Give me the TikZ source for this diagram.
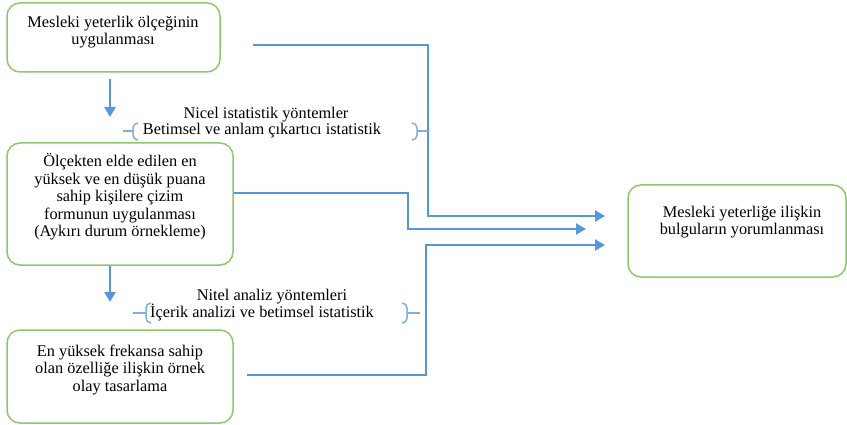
\documentclass[tikz,border=0pt]{standalone}
\usepackage{fontspec}
\setmainfont{Liberation Serif}
\usetikzlibrary{arrows.meta}

\definecolor{flowblue}{RGB}{85,152,213}
\definecolor{bracketblue}{RGB}{125,176,224}
\definecolor{boxgreen}{RGB}{140,200,108}

\tikzset{
  stepbox/.style={draw=boxgreen,line width=1.5pt,rounded corners=13pt},
  boxtext/.style={align=center,inner sep=0,font=\fontsize{16.3}{17.5}\selectfont},
  methodtext/.style={inner sep=0,font=\fontsize{16.3}{17.5}\selectfont},
  flow/.style={draw=flowblue,line width=2.8pt,-{Triangle[length=10pt,width=11pt]}},
  bracket/.style={draw=bracketblue,line width=1.5pt}
}

\begin{document}
\begin{tikzpicture}[x=1pt,y=-1pt]
    \useasboundingbox (0,0) rectangle (847,425);
    % boxes
    \node[stepbox,minimum width=213pt,minimum height=69pt] (uygulama) at (113.5,37.5) {};
    \node[boxtext] (uygulamatext) at (113,32) {Mesleki yeterlik ölçeğinin\\uygulanması};
    \node[stepbox,minimum width=226pt,minimum height=122pt] (cizim) at (120,204) {};
    \node[boxtext] (cizimtext) at (120,197) {Ölçekten elde edilen en\\yüksek ve en düşük puana\\sahip kişilere çizim\\formunun uygulanması\\(Aykırı durum örnekleme)};
    \node[stepbox,minimum width=226pt,minimum height=93pt] (olay) at (120,376.5) {};
    \node[boxtext] (olaytext) at (120,370) {En yüksek frekansa sahip\\olan özelliğe ilişkin örnek\\olay tasarlama};
    \node[stepbox,minimum width=218pt,minimum height=92pt] (yorum) at (737,231) {};
    \node[boxtext] (yorumtext) at (742,222) {Mesleki yeterliğe ilişkin\\bulguların yorumlanması};
    % methods
    \node[methodtext] (nicel) at (266,115) {Nicel istatistik yöntemler};
    \node[methodtext] (betimsel) at (262,131) {Betimsel ve anlam çıkartıcı istatistik};
    \node[methodtext] (nitel) at (272,297) {Nitel analiz yöntemleri};
    \node[methodtext] (icerik) at (262,313) {İçerik analizi ve betimsel istatistik};
    % connector points
    \coordinate (down1s) at (110,79);
    \coordinate (down1e) at (110,117);
    \coordinate (down2e) at (110,302);
    \coordinate (out1) at (253,45);
    \coordinate (bend1) at (428,216);
    \coordinate (in1) at (605,216);
    \coordinate (bend2) at (408,229);
    \coordinate (in2) at (586,229);
    \coordinate (out3) at (247,375);
    \coordinate (bend3) at (426,245);
    \coordinate (in3) at (605,245);
    \draw[flow] (down1s) -- (down1e);
    \draw[flow] (cizim.south -| down2e) -- (down2e);
    \draw[flow] (out1) -| (bend1) -- (in1);
    \draw[flow] ([yshift=11pt]cizim.east) -| (bend2) -- (in2);
    \draw[flow] (out3) -| (bend3) -- (in3);
    % brackets
    \draw[bracket] (123,131) -- (133,131);
    \draw[bracket] (138,123) to[out=180,in=90] (133,128) -- (133,135) to[out=-90,in=180] (138,140);
    \draw[bracket] (417,131) -- (428,131);
    \draw[bracket] (412,123) to[out=0,in=90] (417,128) -- (417,135) to[out=-90,in=0] (412,140);
    \draw[bracket] (133,313) -- (146,313);
    \draw[bracket] (151,303) to[out=180,in=90] (146,308) -- (146,318) to[out=-90,in=180] (151,323);
    \draw[bracket] (407,313) -- (420,313);
    \draw[bracket] (402,303) to[out=0,in=90] (407,308) -- (407,318) to[out=-90,in=0] (402,323);
\end{tikzpicture}
\end{document}
